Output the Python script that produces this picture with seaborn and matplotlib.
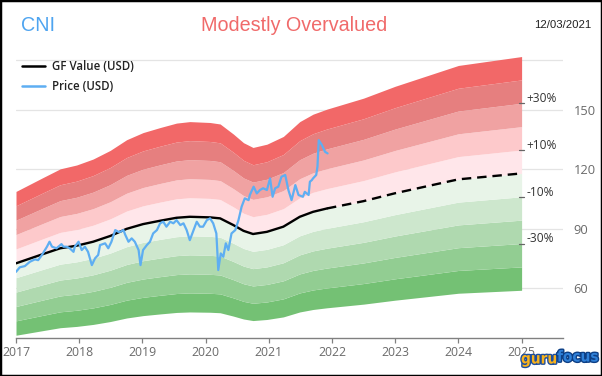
import matplotlib
matplotlib.use("Agg")
import matplotlib.pyplot as plt
import matplotlib.patheffects as pe
from matplotlib.lines import Line2D
from matplotlib.patches import Rectangle
import numpy as np
import seaborn as sns

sns.set_theme(style="white")
plt.rcParams['font.family'] = ['Open Sans', 'DejaVu Sans']

# --- data ---
price_years = [2017.00, 2017.06, 2017.14, 2017.22, 2017.30, 2017.35, 2017.41, 2017.49, 2017.53, 2017.57,
               2017.64, 2017.72, 2017.75, 2017.80, 2017.85, 2017.91, 2017.93, 2017.99, 2018.04, 2018.09,
               2018.14, 2018.20, 2018.25, 2018.30, 2018.33, 2018.41, 2018.46, 2018.51, 2018.57, 2018.62,
               2018.65, 2018.70, 2018.73, 2018.78, 2018.83, 2018.88, 2018.94, 2018.97, 2019.01, 2019.07,
               2019.12, 2019.17, 2019.23, 2019.28, 2019.33, 2019.38, 2019.44, 2019.49, 2019.54, 2019.60,
               2019.65, 2019.70, 2019.75, 2019.81, 2019.86, 2019.91, 2019.96, 2020.02, 2020.07, 2020.12,
               2020.17, 2020.19, 2020.20, 2020.24, 2020.28, 2020.32, 2020.36, 2020.41, 2020.47, 2020.52,
               2020.57, 2020.62, 2020.68, 2020.70, 2020.76, 2020.81, 2020.86, 2020.91, 2020.97, 2021.02,
               2021.06, 2021.10, 2021.15, 2021.20, 2021.26, 2021.31, 2021.36, 2021.42, 2021.47, 2021.54,
               2021.57, 2021.63, 2021.65, 2021.68, 2021.70, 2021.75, 2021.77, 2021.79, 2021.84, 2021.89,
               2021.93]
price = [68.3, 70.6, 71.2, 73.4, 74.6, 74.2, 76.8, 81.0, 83.5, 81.0,
         80.2, 82.3, 81.0, 81.0, 80.2, 78.4, 81.0, 83.5, 79.3, 81.0,
         78.4, 71.7, 75.1, 76.8, 81.8, 82.7, 80.2, 83.5, 89.4, 88.5,
         88.5, 89.4, 86.9, 83.5, 85.2, 83.5, 79.3, 71.7, 79.3, 81.8,
         83.5, 87.7, 89.4, 92.8, 93.6, 91.1, 93.6, 92.8, 94.4, 91.9,
         92.8, 89.4, 84.3, 89.4, 93.6, 91.1, 91.1, 94.4, 95.3, 92.8,
         87.7, 75.9, 69.2, 77.6, 75.9, 82.7, 79.3, 87.7, 89.4, 94.4,
         101.2, 105.4, 104.5, 107.1, 111.3, 107.9, 109.6, 110.5, 109.6, 115.5,
         106.2, 110.5, 111.3, 116.3, 117.2, 109.6, 104.5, 112.1, 107.1, 106.2,
         108.7, 107.1, 113.8, 114.6, 115.5, 117.2, 121.4, 134.8, 132.3, 128.9,
         128.1]

gf_years = [2017.00, 2017.43, 2017.70, 2017.96, 2018.22, 2018.49, 2018.75, 2019.01, 2019.28, 2019.54,
            2019.75, 2020.07, 2020.23, 2020.44, 2020.60, 2020.75, 2020.97, 2021.23, 2021.49, 2021.70,
            2021.92]
gf_value = [72.6, 77.3, 80.2, 81.5, 83.5, 86.4, 90.0, 92.4, 94.1, 95.6,
            96.1, 95.8, 95.3, 91.9, 89.0, 87.4, 88.5, 91.1, 96.1, 98.6,
            100.3]
est_years = [2021.92, 2022.50, 2023.00, 2023.50, 2024.00, 2024.50, 2025.00]
est_value = [100.3, 104.0, 108.0, 111.5, 115.0, 116.5, 118.0]

band_levels = [0.5, 0.6, 0.7, 0.8, 0.9, 1.0, 1.1, 1.2, 1.3, 1.4, 1.5]
band_colors = ['#74c174', '#92cd92', '#afd9af', '#cde7cd', '#e8f4e8',
               '#ffe6ea', '#fdc9cb', '#f0a2a2', '#e67f7f', '#f26868']
band_labels = {1.3: '+30%', 1.1: '+10%', 0.9: '-10%', 0.7: '-30%'}

year_ticks = list(range(2017, 2026))
value_ticks = [60, 90, 120, 150]

fig = plt.figure(figsize=(6.02, 3.76), dpi=100)
ax = fig.add_axes([0.02658, 0.10106, 0.90864, 0.76437])

all_years = np.array(gf_years + est_years[1:])
all_gf = np.array(gf_value + est_value[1:])

for lo, hi, c in zip(band_levels[:-1], band_levels[1:], band_colors):
    ax.fill_between(all_years, all_gf * lo, all_gf * hi, color=c, linewidth=0, zorder=1)

sns.lineplot(x=gf_years, y=gf_value, ax=ax, color='black', linewidth=1.7, zorder=3)
sns.lineplot(x=est_years, y=est_value, ax=ax, color='black', linewidth=1.7,
             linestyle=(0, (4, 2.5)), zorder=3)
sns.lineplot(x=price_years, y=price, ax=ax, color='#5eaef2', linewidth=1.6, zorder=4)

# band labels at the right end
for lvl, txt in band_labels.items():
    yv = est_value[-1] * lvl
    ax.plot([2024.96, 2025.04], [yv, yv], color='#666666', lw=0.9, clip_on=False, zorder=5)
    ax.text(2025.08, yv + 0.6, txt, fontsize=8.6, color='#333333', va='baseline', ha='left')

ax.set_xlim(2017, 2025.655)
ax.set_ylim(34.9, 180)
ax.set_xticks(year_ticks)
ax.set_xticklabels([str(y) for y in year_ticks])
ax.set_yticks(value_ticks)
ax.yaxis.tick_right()
ax.grid(axis='y', color='#e4e4e4', linewidth=0.9, zorder=0)
ax.axhline(175.2, color='#e4e4e4', linewidth=0.9, zorder=0)
ax.set_axisbelow(True)
for side in ['top', 'left', 'right']:
    ax.spines[side].set_visible(False)
ax.spines['bottom'].set_color('#808080')
ax.spines['bottom'].set_linewidth(1.0)
ax.tick_params(axis='x', direction='out', length=3.5, width=0.9, color='#808080',
               labelsize=8.8, labelcolor='#6a6a6a', pad=2.5, bottom=True)
ax.tick_params(axis='y', length=0, labelsize=9.3, labelcolor='#6a6a6a', pad=7.5)
ax.set_xlabel('')
ax.set_ylabel('')
ax.set_facecolor('white')

# legend drawn by hand
for yy, col, lab in [(66, 'black', 'GF Value (USD)'), (86, '#5eaef2', 'Price (USD)')]:
    fy = 1 - yy / 376
    fig.add_artist(Line2D([22 / 602, 45 / 602], [fy, fy], color=col, lw=1.8))
    fig.text(52 / 602, fy, lab, fontsize=8.3, fontweight='semibold', color='#222222',
             va='center', ha='left')

# header
fig.text(21 / 602, 1 - 25.5 / 376, 'CNI', fontsize=14.2, color='#4ea4f0',
         family=['Liberation Sans', 'DejaVu Sans'], va='center', ha='left')
fig.text(294.5 / 602, 1 - 25.5 / 376, 'Modestly Overvalued', fontsize=14.2, color='#f06a6a',
         family=['Liberation Sans', 'DejaVu Sans'], va='center', ha='center')
fig.text(591 / 602, 1 - 25 / 376, '12/03/2021', fontsize=8.2, color='#222222',
         family=['Liberation Sans', 'DejaVu Sans'], va='center', ha='right')

# gurufocus mark
fig.text(557 / 602, 1 - 359 / 376, 'guru', fontsize=11, fontweight='bold', color='#f8b21c',
         family=['DejaVu Sans'], fontstretch='condensed', ha='right', va='center',
         path_effects=[pe.withStroke(linewidth=2.0, foreground='#1d4e9e')])
fig.text(557 / 602, 1 - 357 / 376, 'focus', fontsize=11, fontweight='bold', color='#2f80d8',
         family=['DejaVu Sans'], fontstretch='condensed', ha='left', va='center',
         path_effects=[pe.withStroke(linewidth=2.0, foreground='#0d3f85')])

# outer frame
fig.patches.append(Rectangle((0, 0), 1, 1, transform=fig.transFigure, fill=False,
                             edgecolor='black', linewidth=2.5, figure=fig))

fig.savefig('out.png', dpi=100)
plt.close(fig)
